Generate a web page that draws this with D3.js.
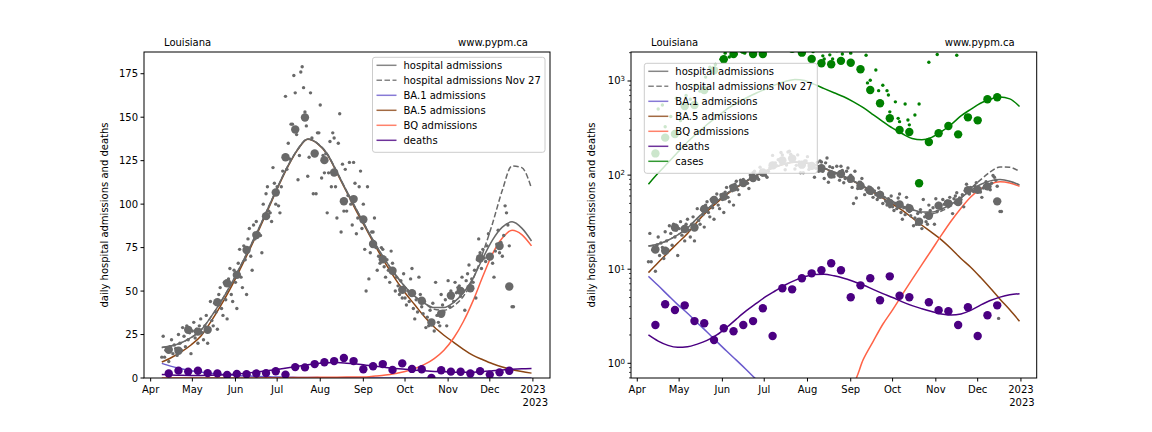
<!DOCTYPE html>
<html><head><meta charset="utf-8">
<script src="https://cdn.jsdelivr.net/npm/d3@7"></script>
<style>
body{margin:0;background:#fff}
svg{display:block}
text{font-family:"DejaVu Sans",sans-serif;font-size:10px;fill:#000}
</style>
</head><body><svg id="c" width="1152" height="432"></svg>
<script>
// ---------- DATA (days counted from 2022-04-01) ----------
const curveDays = [8,15,22,29,36,43,50,57,64,71,78,85,92,99,106,113,120,127,134,141,148,155,162,169,176,183,190,197,204,211,218,225,232,239,246,253,260,267,274];
const hospCurve = [17.6,18.5,20.3,23.2,27.4,34.7,43.2,52.7,63.4,74.6,86.4,98.7,111,122.4,131.8,137.5,135,129,118.5,107.5,97,86.5,76.5,67.5,59.5,52.5,47,43,40.5,40.6,43.5,49,57.5,69,79.5,86.8,89.8,86.2,78.8];
const hospNov27 = [17.6,18.5,20.3,23.2,27.4,34.7,43.2,52.7,63.4,74.6,86.4,98.7,111,122.4,131.8,137.5,135,129,118.5,107.5,97,86.5,76.5,67.5,59.5,52.5,47,43,39.5,39,41.5,47,57,72,89,108,122,121,109];
const ba1Curve = [8.4,6.7,5.3,4.2,3.4,2.7,2.15,1.7,1.35,1.08,0.86,0.68,0.54,0.43,0.34,0.27,0.22,0.17,0.14,0.11,0.087,0.069,0.055,0.044,0.035,0.028,0.022,0.017,0.014,0.011,0.009,0.007,0.0056,0.0044,0.0035,0.0028,0.0022,0.0018,0.0014];
const ba5Curve = [9.2,11.8,15,19,24,32,41,51,62,73.5,85.5,98,110.5,122,131.5,137.3,134.8,128.6,118,107,96,85.8,75.4,65.8,57,49,42.1,35.2,29.3,24.6,20.5,16.5,13,10.5,8.2,6.3,4.8,3.7,2.8];
const bqCurve = [0.001,0.0016,0.0025,0.004,0.006,0.009,0.014,0.021,0.032,0.047,0.07,0.1,0.14,0.19,0.25,0.31,0.37,0.42,0.47,0.52,0.57,0.62,1.1,1.7,2.6,3.7,5.4,7.8,11.2,16,23,32.5,44.5,58.5,71.5,80.5,85,82.5,76];
const deathCurve = [2.0,1.72,1.55,1.48,1.5,1.6,1.75,2.0,2.4,2.95,3.6,4.3,5.1,5.9,6.8,7.6,8.3,8.8,8.85,8.5,8.0,7.4,6.8,6.1,5.5,5.0,4.5,4.1,3.8,3.55,3.35,3.27,3.35,3.65,4.15,4.65,5.05,5.35,5.5];
const caseCurve = [80,105,135,175,225,280,345,415,500,580,660,740,820,910,990,1040,1010,920,830,750,680,600,520,440,370,315,275,245,237,252,290,345,425,500,580,640,675,645,535];

// weekly points: day 13 + 7k
const weeklyFirstDay = 13;
const hospWeekly = [16.2,15.7,27.7,26.7,27.7,43.6,54.5,59.3,73.6,82.2,93.1,106.7,127,142.9,149.8,129.1,125.3,118.2,101.7,102.9,91.2,77.1,68.3,61.7,50.7,48.8,44.4,31.9,36.9,47.4,50.1,51.6,68.9,69.8,75.9,52.6];
const deathWeekly = [2.55,4.24,3.68,4.13,2.81,2.66,1.77,2.36,2.19,2.55,2.81,3.84,1.95,6.27,6.11,8.0,9.04,9.73,11.55,9.73,5.03,6.74,8.0,4.67,8.4,5.23,5.03,0,4.45,3.66,3.57,2.55,3.94,1.95,3.24,4.13];
const caseWeekly = [170,250,273,543,555,800,1300,1700,1936,2150,1936,1936,2300,2400,2200,2000,1714,1542,1505,1637,1560,1335,802,580,402,302,287,81.8,225,278,332,271,411,382,640,671];

// daily hospital admissions, day 8 .. 261
const hospDailyFirstDay = 8;
const hospDaily = [12,24,12,16,17,9.5,18, 22,14,19,17,13,25,20, 16,29,24,18,30,22,26, 14,27,32,23,28,20,30,
 34,26,22,30,36,20,28, 44,33,30,43,38,28,48, 52,40,36,55,45,34,57, 63,48,44,62,55,40,66,
 74,58,52,76,68,48,80, 86,70,62,88,80,90,84, 83,82,72,100,94,106,110, 96,95,90,121,112,100,110,
 99,95,110,119,127,162,120, 135,126,146,146,174,164,140, 114,128,176,179,167,153,145, 116,127,164,138,106,130,106,
 141,141,157,115,128,118,129, 95,118,136,110,141,138,110, 92,135,152,84,123,96,120, 96,105,124,100,88,124,112,
 83,92,110,119,86,100,74, 50,110,57,72,84,84,92, 75,62,70,66,75,74,64, 58,68,62,55,73,66,60,
 50,58,53,48,56,46,60, 46,42,50,44,57,63,40, 34,45,38,58,48,41,37, 44,29,35,30,39,33,43,
 27,55,36,32,30,48,42, 38,45,30,56,41,50,46, 44,55,49,52,53,47,58, 50,39,56,60,65,52,57,
 55,62,46,68,80,72,63, 74,69,67,76,83,70,71, 66,58,73,77,85,72,78, 70,82,99,95,88,76,3,41,41];

// daily cases (selected reporting days)
const caseDailyDays = [15,18,20,24,28,31,35,38,42,45,49,52,56,60,63,66,71,73,77,80,84,87,91,95,98,101,105,108,112,115,119,122,126,129,133,134,138,140,143,147,150,153,157,160,162,164,165,167,171,173,176,179,180,181,185,187,188,192,194,195,199,202,209,215,222,229,236,243,250,257];
const caseDaily = [504,555,327,420,655,380,700,640,900,780,1100,1400,1500,1700,1977,1800,1936,2200,1977,2400,2300,2500,2600,2800,3000,2600,2700,2500,2400,2300,2100,2250,2050,2200,1850,1714,1895,1714,2100,1936,2300,1977,2200,1360,2300,1880,955,1020,1310,790,900,790,710,470,600,401,370,570,385,342,435,570,1582,1910,2300,1880,2400,2500,2600,2600];

// ticks
const monthTicks = [[2022,3,"Apr"],[2022,4,"May"],[2022,5,"Jun"],[2022,6,"Jul"],[2022,7,"Aug"],[2022,8,"Sep"],[2022,9,"Oct"],[2022,10,"Nov"],[2022,11,"Dec"],[2023,0,"2023"]];
const linTicks = [0,25,50,75,100,125,150,175];
const logTicks = [1,10,100,1000];

// ---------- DRAW ----------
const svg = d3.select("#c");
const DAY = 864e5, T0 = Date.UTC(2022,3,1);
const dt = d => new Date(T0 + d*DAY);

const colors = {hosp:"#696969", ba1:"#6a5acd", ba5:"#8b4513", bq:"#ff6347", death:"#4b0082", cases:"#008000"};

function panel(cfg){
  const {x0,x1,y0,y1,log,id,dom} = cfg;
  const x = d3.scaleUtc().domain([dt(dom[0]),dt(dom[1])]).range([x0,x1]);
  const y = log ? d3.scaleLog().domain([0.698,2033]).range([y1,y0])
                : d3.scaleLinear().domain([0,187.5]).range([y1,y0]);
  svg.append("clipPath").attr("id",id).append("rect").attr("x",x0).attr("y",y0).attr("width",x1-x0).attr("height",y1-y0);
  const g = svg.append("g").attr("clip-path",`url(#${id})`);
  const ok = v => log ? v>0 : true;
  const line = (vals, col, dash, op) => {
    const pts = curveDays.map((d,i)=>[d,vals[i]]).filter(p=>ok(p[1]));
    g.append("path").datum(pts)
      .attr("d", d3.line().x(p=>x(dt(p[0]))).y(p=>y(p[1])).curve(d3.curveMonotoneX))
      .attr("fill","none").attr("stroke",col).attr("stroke-width",1.5)
      .attr("stroke-dasharray",dash||null).attr("opacity",op||1);
  };
  const dots = (days, vals, col, r) => {
    g.append("g").selectAll("circle").data(days.map((d,i)=>[d,vals[i]]).filter(p=>ok(p[1])))
      .join("circle").attr("cx",p=>x(dt(p[0]))).attr("cy",p=>y(p[1])).attr("r",r).attr("fill",col);
  };
  // lines
  line(ba1Curve, colors.ba1);
  line(ba5Curve, colors.ba5);
  line(bqCurve, colors.bq);
  line(deathCurve, colors.death);
  if (log) line(caseCurve, colors.cases);
  line(hospNov27, colors.hosp, "5.5,2.5");
  line(hospCurve, colors.hosp);
  // points
  const wk = hospWeekly.map((_,k)=>weeklyFirstDay+7*k);
  dots(hospDaily.map((_,i)=>hospDailyFirstDay+i), hospDaily, colors.hosp, 1.7);
  dots(wk, hospWeekly, colors.hosp, 4.2);
  dots(wk, deathWeekly, colors.death, 4.2);
  if (log){
    dots(caseDailyDays, caseDaily, colors.cases, 1.7);
    dots(wk, caseWeekly, colors.cases, 4.2);
  }
  // frame
  svg.append("rect").attr("x",x0).attr("y",y0).attr("width",x1-x0).attr("height",y1-y0)
     .attr("fill","none").attr("stroke","#000").attr("stroke-width",1);
  // x axis
  const xa = svg.append("g");
  monthTicks.forEach(([yy,mm,lab])=>{
    const px = x(new Date(Date.UTC(yy,mm,1)));
    xa.append("line").attr("x1",px).attr("x2",px).attr("y1",y1).attr("y2",y1+3.5).attr("stroke","#000");
    xa.append("text").attr("x",px).attr("y",y1+15).attr("text-anchor","middle").text(lab);
  });
  xa.append("text").attr("x",x1-2).attr("y",y1+28).attr("text-anchor","end").text("2023");
  // y axis
  const ya = svg.append("g");
  if (!log){
    linTicks.forEach(v=>{
      const py = y(v);
      ya.append("line").attr("x1",x0-3.5).attr("x2",x0).attr("y1",py).attr("y2",py).attr("stroke","#000");
      ya.append("text").attr("x",x0-6).attr("y",py).attr("dy","0.35em").attr("text-anchor","end").text(v);
    });
  } else {
    const minor=[];
    for (let e=-1;e<=3;e++) for (let m=2;m<=9;m++){ const v=m*Math.pow(10,e); if(v>0.698&&v<2033) minor.push(v); }
    minor.forEach(v=>{ const py=y(v);
      ya.append("line").attr("x1",x0-2).attr("x2",x0).attr("y1",py).attr("y2",py).attr("stroke","#000").attr("stroke-width",0.7);});
    logTicks.forEach((v,i)=>{
      const py = y(v);
      ya.append("line").attr("x1",x0-3.5).attr("x2",x0).attr("y1",py).attr("y2",py).attr("stroke","#000");
      const t = ya.append("text").attr("x",x0-6).attr("y",py).attr("dy","0.35em").attr("text-anchor","end");
      t.append("tspan").text("10");
      t.append("tspan").attr("dy","-0.45em").attr("font-size","7px").text(String(i));
    });
  }
  svg.append("text").attr("transform",`translate(${x0-36},${(y0+y1)/2}) rotate(-90)`)
     .attr("text-anchor","middle").text("daily hospital admissions and deaths");
  // titles
  svg.append("text").attr("x",x0+20).attr("y",y0-6).text("Louisiana");
  svg.append("text").attr("x",x1-22).attr("y",y0-6).attr("text-anchor","end").text("www.pypm.ca");
  // legend
  const L = cfg.legend;
  const items = [["hospital admissions",colors.hosp,null],["hospital admissions Nov 27",colors.hosp,"5.5,2.5"],
    ["BA.1 admissions",colors.ba1,null],["BA.5 admissions",colors.ba5,null],["BQ admissions",colors.bq,null],["deaths",colors.death,null]];
  if (log) items.push(["cases",colors.cases,null]);
  const lg = svg.append("g");
  lg.append("rect").attr("x",L.x).attr("y",L.y).attr("width",L.w).attr("height",items.length*15+5)
    .attr("rx",2.5).attr("fill","#fff").attr("fill-opacity",0.8).attr("stroke","#cccccc").attr("stroke-width",1);
  items.forEach(([lab,col,dash],i)=>{
    const cy = L.y+8+i*15;
    lg.append("line").attr("x1",L.x+4).attr("x2",L.x+24).attr("y1",cy).attr("y2",cy)
      .attr("stroke",col).attr("stroke-width",1.5).attr("stroke-dasharray",dash).attr("opacity",0.8);
    lg.append("text").attr("x",L.x+31).attr("y",cy).attr("dy","0.35em").text(lab);
  });
}

panel({id:"cl",x0:144,x1:550,y0:52,y1:378,log:false,dom:[-4.8,287.3],legend:{x:372.5,y:57.3,w:172.5}});
panel({id:"cr",x0:631,x1:1036.7,y0:52,y1:378,log:true,dom:[-4.5,286.3],legend:{x:644.3,y:63.3,w:173}});
</script></body></html>
